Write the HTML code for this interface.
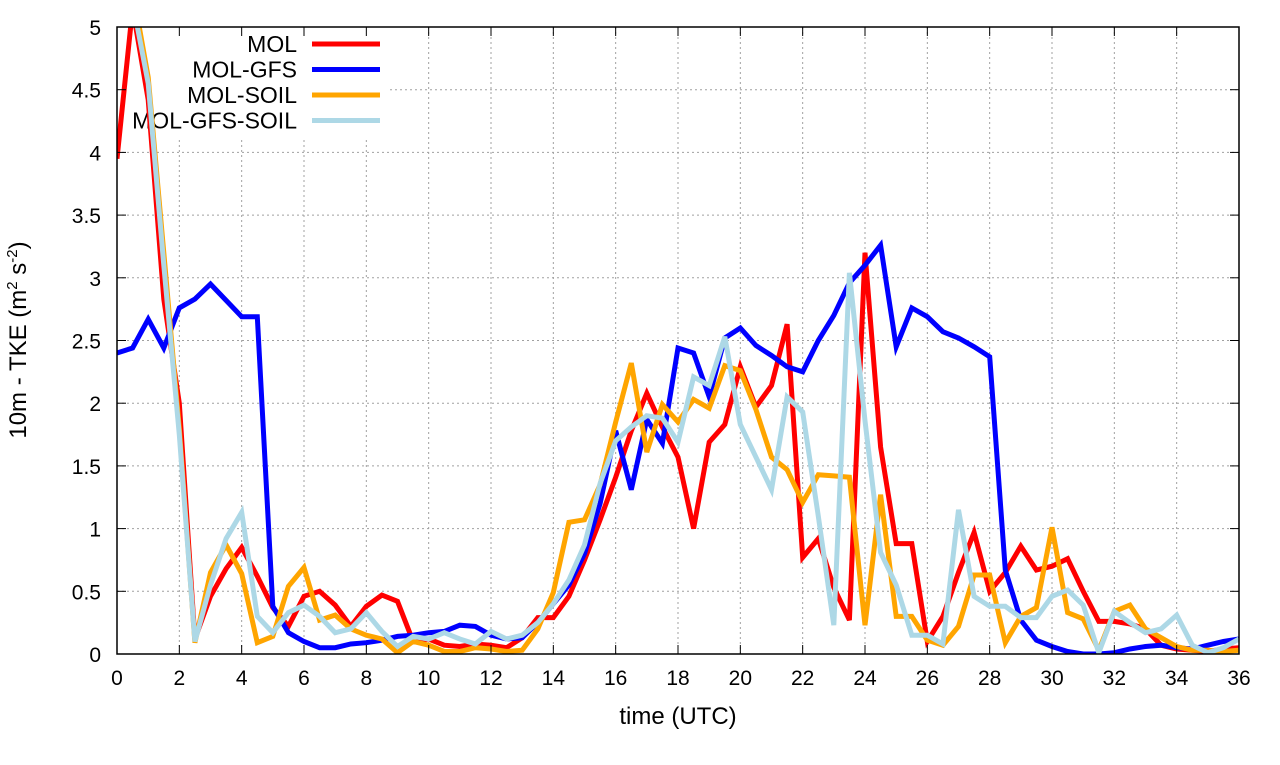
<!DOCTYPE html>
<html><head><meta charset="utf-8"><style>
body{margin:0;background:#fff;}
svg text{font-family:"Liberation Sans",sans-serif;fill:#000;}
</style></head><body>
<svg id="chart" width="1280" height="760" viewBox="0 0 1280 760" xmlns="http://www.w3.org/2000/svg">
<defs><clipPath id="pc"><rect x="117" y="27" width="1122" height="627"/></clipPath></defs>
<g id="grid"></g>
<g id="legend"></g>
<g id="series" clip-path="url(#pc)"></g>
<g id="axes"></g>
<text x="678" y="724" font-size="24" text-anchor="middle">time (UTC)</text>
<text transform="translate(26,340) rotate(-90)" font-size="24" text-anchor="middle">10m - TKE (m<tspan dy="-9" font-size="15">2</tspan><tspan dy="9"> s</tspan><tspan dy="-9" font-size="15">-2</tspan><tspan dy="9">)</tspan></text>
</svg>
<script>
const times = [];
for (let i = 0; i <= 72; i++) times.push(i * 0.5);
const xTicks = [0,2,4,6,8,10,12,14,16,18,20,22,24,26,28,30,32,34,36];
const yTicks = [0,0.5,1,1.5,2,2.5,3,3.5,4,4.5,5];
const yTickLabels = ["0","0.5","1","1.5","2","2.5","3","3.5","4","4.5","5"];
const seriesNames = ["MOL","MOL-GFS","MOL-SOIL","MOL-GFS-SOIL"];
const seriesColors = ["#ff0000","#0000ff","#ffa500","#add8e6"];
const mol = [3.95,5.15,4.42,2.83,2.0,0.12,0.46,0.68,0.85,0.62,0.37,0.22,0.46,0.5,0.39,0.22,0.38,0.47,0.42,0.1,0.12,0.07,0.06,0.08,0.07,0.05,0.13,0.29,0.29,0.46,0.75,1.07,1.41,1.78,2.08,1.81,1.57,1.0,1.69,1.83,2.29,1.97,2.14,2.63,0.77,0.92,0.53,0.27,3.2,1.65,0.88,0.88,0.1,0.3,0.65,0.97,0.5,0.65,0.86,0.67,0.7,0.76,0.5,0.26,0.26,0.24,0.2,0.07,0.04,0.03,0.02,0.04,0.05];
const molGfs = [2.4,2.44,2.67,2.44,2.76,2.83,2.95,2.82,2.69,2.69,0.38,0.17,0.1,0.05,0.05,0.08,0.09,0.11,0.14,0.15,0.17,0.18,0.23,0.22,0.15,0.12,0.13,0.25,0.4,0.55,0.8,1.2,1.78,1.31,1.87,1.68,2.44,2.4,2.05,2.52,2.6,2.46,2.38,2.29,2.25,2.5,2.7,2.96,3.1,3.26,2.45,2.76,2.69,2.57,2.52,2.45,2.37,0.67,0.27,0.11,0.06,0.02,0.0,0.0,0.01,0.04,0.06,0.07,0.05,0.04,0.07,0.1,0.12];
const molSoil = [5.6,5.3,4.6,3.2,1.8,0.09,0.65,0.87,0.64,0.09,0.14,0.54,0.69,0.27,0.31,0.2,0.15,0.12,0.01,0.1,0.07,0.02,0.02,0.05,0.04,0.02,0.03,0.2,0.49,1.05,1.07,1.35,1.85,2.32,1.61,1.99,1.85,2.03,1.96,2.3,2.26,1.95,1.57,1.47,1.21,1.43,1.42,1.41,0.23,1.27,0.3,0.3,0.11,0.07,0.22,0.63,0.63,0.09,0.3,0.37,1.01,0.33,0.28,0.03,0.34,0.39,0.2,0.13,0.06,0.03,0.03,0.02,0.03];
const molGfsSoil = [5.5,5.2,4.55,3.1,1.75,0.1,0.55,0.92,1.13,0.3,0.17,0.33,0.39,0.3,0.17,0.2,0.33,0.18,0.06,0.14,0.12,0.17,0.12,0.08,0.18,0.12,0.15,0.25,0.4,0.59,0.87,1.36,1.7,1.81,1.9,1.88,1.69,2.21,2.14,2.53,1.83,1.57,1.31,2.05,1.93,1.1,0.23,3.04,1.86,0.81,0.55,0.15,0.15,0.08,1.15,0.46,0.38,0.38,0.29,0.29,0.46,0.51,0.39,0.01,0.34,0.25,0.17,0.2,0.31,0.07,0.01,0.05,0.12];
const seriesData = [mol, molGfs, molSoil, molGfsSoil];

const X0=117,X1=1239,Y0=654,Y1=27;
const xs = t => X0 + (t/36)*(X1-X0);
const ys = v => Y0 - (v/5)*(Y0-Y1);
const NS="http://www.w3.org/2000/svg";
function mk(tag, attrs, parent){const e=document.createElementNS(NS,tag);for(const k in attrs)e.setAttribute(k,attrs[k]);parent.appendChild(e);return e;}
const grid=document.getElementById('grid'), axes=document.getElementById('axes'), ser=document.getElementById('series'), leg=document.getElementById('legend');

xTicks.forEach(t=>{
  const x=xs(t);
  if(t>0&&t<36){const g=mk('line',{x1:x,y1:(x<390?140:Y1),x2:x,y2:Y0,stroke:'#a0a0a0','stroke-width':1,'stroke-dasharray':'2,3'},grid);
  
  }
  mk('line',{x1:x,y1:Y0,x2:x,y2:Y0-9,stroke:'#000','stroke-width':1},axes);
  mk('line',{x1:x,y1:Y1,x2:x,y2:Y1+9,stroke:'#000','stroke-width':1},axes);
  const tx=mk('text',{x:x,y:Y0+31,'font-size':21,'text-anchor':'middle'},axes);
  tx.textContent=String(t);
  
  
});
yTicks.forEach((v,i)=>{
  const y=ys(v);
  if(v>0&&v<5){const g=mk('line',{x1:(y<135?390:X0),y1:y,x2:X1,y2:y,stroke:'#a0a0a0','stroke-width':1,'stroke-dasharray':'2,3'},grid);
  
  }
  mk('line',{x1:X0,y1:y,x2:X0+9,y2:y,stroke:'#000','stroke-width':1},axes);
  mk('line',{x1:X1,y1:y,x2:X1-9,y2:y,stroke:'#000','stroke-width':1},axes);
  const tx=mk('text',{x:101,y:y+8,'font-size':21,'text-anchor':'end'},axes);
  tx.textContent=yTickLabels[i];
  
  
});
const frame=mk('rect',{x:X0,y:Y1,width:X1-X0,height:Y0-Y1,fill:'none',stroke:'#000','stroke-width':1.5},axes);



seriesNames.forEach((n,i)=>{
  const y=44+i*25.5;
  const tx=mk('text',{x:297,y:y+8,'font-size':23,'text-anchor':'end'},leg);
  tx.textContent=n;
  
  
  const ln=mk('line',{x1:312,y1:y,x2:380,y2:y,stroke:seriesColors[i],'stroke-width':5},leg);
  
  
});
seriesData.forEach((d,si)=>{
  const pts=d.map((v,i)=>xs(times[i]).toFixed(1)+','+ys(v).toFixed(1)).join(' ');
  const pl=mk('polyline',{points:pts,fill:'none',stroke:seriesColors[si],'stroke-width':5,'stroke-linejoin':'miter'},ser);
  
  
});
</script>
</body></html>
